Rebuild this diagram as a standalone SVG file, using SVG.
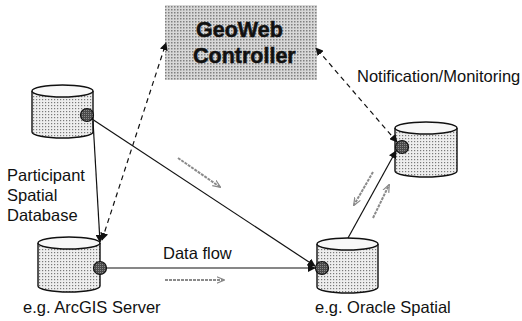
<svg xmlns="http://www.w3.org/2000/svg" width="522" height="321" viewBox="0 0 522 321">
<style>
.lbl{font-family:"Liberation Sans",Arial,sans-serif;font-size:16.5px;fill:#111}
.ttl{font-family:"Liberation Sans",Arial,sans-serif;font-size:21.5px;font-weight:bold;fill:#111;stroke:#111;stroke-width:0.5}
.body{fill:url(#dots);stroke:#111;stroke-width:1.4}
.top{fill:#f8f8f8;stroke:#111;stroke-width:1.4}
.globe{fill:url(#gdots);stroke:#111;stroke-width:1.2}
.solid{fill:none;stroke:#111;stroke-width:1.2}
.dash{fill:none;stroke:#111;stroke-width:1.2;stroke-dasharray:5,4}
.flow{fill:none;stroke:#8a8a8a;stroke-width:2;stroke-dasharray:3,1}
</style>
<defs>
<pattern id="dots" width="3" height="3" patternUnits="userSpaceOnUse">
<rect width="3" height="3" fill="#eeeeee"/>
<rect width="1.2" height="1.2" fill="#7a7a7a"/>
</pattern>
<pattern id="boxdots" width="3" height="3" patternUnits="userSpaceOnUse">
<rect width="3" height="3" fill="#d8d8d8"/>
<rect width="1.5" height="1.5" fill="#808080"/>
</pattern>
<pattern id="gdots" width="2" height="2" patternUnits="userSpaceOnUse">
<rect width="2" height="2" fill="#4a4a4a"/>
<rect width="1" height="1" fill="#888"/>
</pattern>
<marker id="ah" viewBox="0 0 10 10" refX="9" refY="5" markerWidth="8" markerHeight="8" markerUnits="userSpaceOnUse" orient="auto-start-reverse">
<path d="M0,0 L10,5 L0,10 z" fill="#111"/>
</marker>
<marker id="gh" viewBox="0 0 10 10" refX="9" refY="5" markerWidth="8" markerHeight="8" markerUnits="userSpaceOnUse" orient="auto">
<path d="M0,1 L10,5 L0,9" fill="none" stroke="#888" stroke-width="1.5"/>
</marker>
</defs>
<rect width="522" height="321" fill="#fff"/>

<g id="geoweb">
<rect x="165" y="5" width="152" height="75" fill="url(#boxdots)"/>
<text class="ttl" x="196" y="37">GeoWeb</text>
<text class="ttl" x="193" y="63">Controller</text>
</g>

<g id="participant-db">
<path class="body" d="M32,91 L32,132 A30.5,6 0 0 0 93,132 L93,91"/>
<ellipse class="top" cx="62.5" cy="91" rx="30.5" ry="6"/>
<circle class="globe" cx="87" cy="115" r="6.5"/>
</g>

<g id="arcgis">
<path class="body" d="M38,243 L38,286 A31,6 0 0 0 100,286 L100,243"/>
<ellipse class="top" cx="69" cy="243" rx="31" ry="6"/>
<circle class="globe" cx="100" cy="268" r="6.5"/>
</g>

<g id="oracle">
<path class="body" d="M317,244 L317,287 A30.5,6 0 0 0 378,287 L378,244"/>
<ellipse class="top" cx="347.5" cy="244" rx="30.5" ry="6"/>
<circle class="globe" cx="322" cy="268" r="6.5"/>
</g>

<g id="right-db">
<path class="body" d="M395,128 L395,171 A31,6 0 0 0 457,171 L457,128"/>
<ellipse class="top" cx="426" cy="128" rx="31" ry="6"/>
<circle class="globe" cx="402" cy="147" r="6.5"/>
</g>

<g id="connectors">
<line class="solid" x1="93" y1="121" x2="100" y2="242" marker-end="url(#ah)"/>
<line class="dash" x1="102" y1="240" x2="166" y2="43" marker-start="url(#ah)" marker-end="url(#ah)"/>
<line class="solid" x1="92" y1="119" x2="315" y2="266" marker-end="url(#ah)"/>
<line class="solid" x1="107" y1="268" x2="315" y2="268" marker-end="url(#ah)"/>
<line class="solid" x1="348" y1="238" x2="396" y2="151" marker-end="url(#ah)"/>
<line class="dash" x1="397" y1="142" x2="316" y2="48" marker-start="url(#ah)" marker-end="url(#ah)"/>
<line class="flow" x1="178" y1="158" x2="220" y2="187" marker-end="url(#gh)"/>
<line class="flow" x1="165" y1="280" x2="224" y2="280" marker-end="url(#gh)"/>
<line class="flow" x1="373" y1="172" x2="354" y2="205" marker-end="url(#gh)"/>
<line class="flow" x1="373" y1="218" x2="389" y2="185" marker-end="url(#gh)"/>
</g>

<g id="labels">
<text class="lbl" x="357" y="82">Notification/Monitoring</text>
<text class="lbl" x="7" y="181">Participant</text>
<text class="lbl" x="7" y="201">Spatial</text>
<text class="lbl" x="7" y="221">Database</text>
<text class="lbl" x="163" y="259">Data flow</text>
<text class="lbl" x="23" y="313">e.g. ArcGIS Server</text>
<text class="lbl" x="315" y="313">e.g. Oracle Spatial</text>
</g>
</svg>
